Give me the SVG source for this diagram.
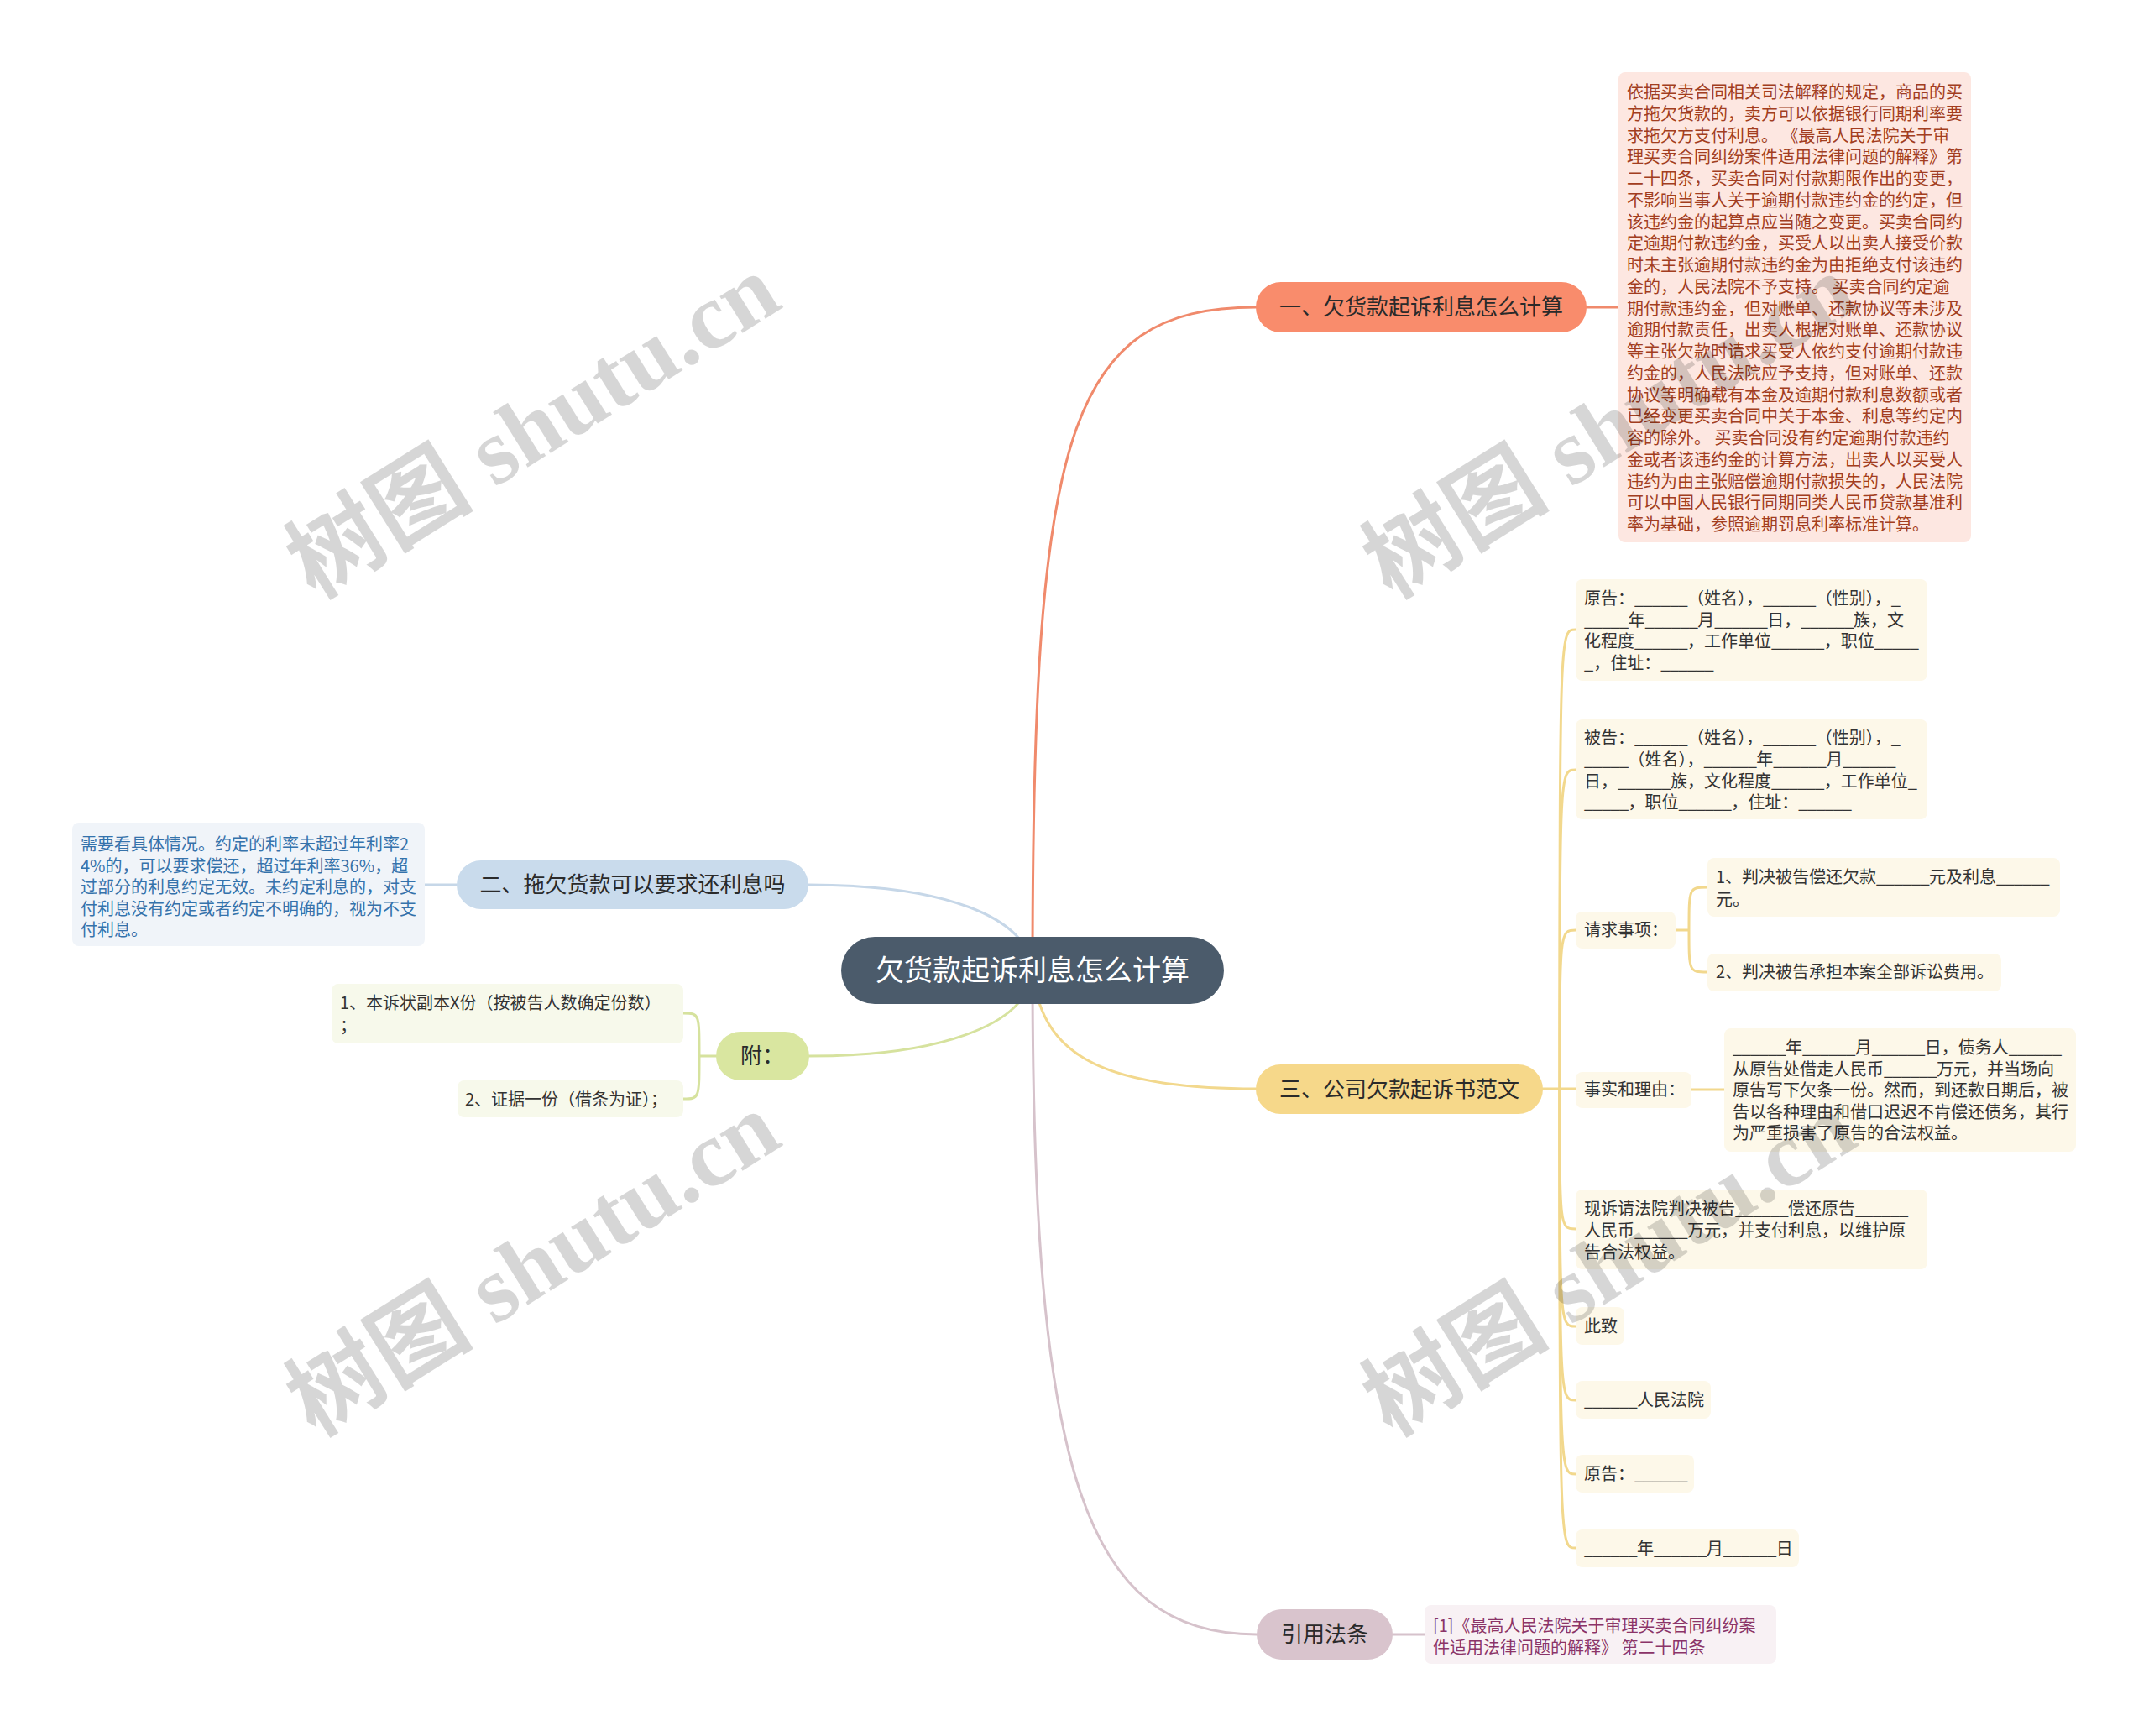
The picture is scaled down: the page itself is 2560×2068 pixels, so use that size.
<svg xmlns="http://www.w3.org/2000/svg" width="2560" height="2068" viewBox="0 0 2560 2068">
<style>
text{font-family:"Noto Sans CJK SC","Liberation Sans",sans-serif}
.t20{font-size:20px;fill:#333}
.u{letter-spacing:-0.7px}
.br{font-size:26px;fill:#2a2a2a;text-anchor:middle}
.c{fill:none;stroke-width:3;stroke-linecap:round}
.red{stroke:#f08a6c}.blue{stroke:#c6d7e8}.green{stroke:#d6e29e}.yel{stroke:#f2d88d}.mauve{stroke:#d6c2cb}
.yb{fill:#fdf8e9}.gb{fill:#f7f9eb}
.wm{font-family:"Liberation Serif","Noto Sans CJK SC",serif;font-size:112px;font-weight:bold;fill:#000;fill-opacity:0.16;text-anchor:middle}
</style>
<rect width="2560" height="2068" fill="#fff"/>
<g id="connectors">
<path class="c red" d="M1230,1156 C1230,520 1270,366 1496,366"/>
<path class="c red" d="M1890,366 H1928"/>
<path class="c blue" d="M1230,1156 C1225,1090 1120,1054 963,1054"/>
<path class="c blue" d="M506,1054 H544"/>
<path class="c green" d="M1230,1156 C1225,1225 1110,1258 964,1258"/>
<path class="c green" d="M853,1258 H833 M833,1258 C833,1207 833,1207 814,1207 M833,1258 C833,1309 833,1309 814,1309"/>
<path class="c yel" d="M1230,1156 C1240,1250 1300,1297 1496,1297"/>
<path class="c yel" d="M1838,1297 H1877"/>
<path class="c yel" d="M1858,1297 C1858,750 1858,750 1877,750"/>
<path class="c yel" d="M1858,1297 C1858,917 1858,917 1877,917"/>
<path class="c yel" d="M1858,1297 C1858,1108 1858,1108 1877,1108"/>
<path class="c yel" d="M1858,1297 C1858,1464 1858,1464 1877,1464"/>
<path class="c yel" d="M1858,1297 C1858,1580 1858,1580 1877,1580"/>
<path class="c yel" d="M1858,1297 C1858,1668 1858,1668 1877,1668"/>
<path class="c yel" d="M1858,1297 C1858,1756 1858,1756 1877,1756"/>
<path class="c yel" d="M1858,1297 C1858,1844 1858,1844 1877,1844"/>
<path class="c yel" d="M1996,1108 H2012 M2012,1108 C2012,1057 2012,1057 2034,1057 M2012,1108 C2012,1158 2012,1158 2034,1158"/>
<path class="c yel" d="M2015,1298 H2054"/>
<path class="c mauve" d="M1230,1156 C1230,1750 1290,1947 1497,1947"/>
<path class="c mauve" d="M1659,1947 H1697"/>
</g>
<g id="root">
<rect x="1002" y="1116" width="456" height="80" rx="40" fill="#4b5b6b"/>
<text x="1230" y="1168" font-size="34" fill="#fff" text-anchor="middle">欠货款起诉利息怎么计算</text>
</g>
<g id="b1">
<rect x="1496" y="336" width="394" height="60" rx="30" fill="#f98c6c"/>
<text class="br" x="1693" y="375">一、欠货款起诉利息怎么计算</text>
</g>
<g id="b1-text">
<rect x="1928" y="86" width="420" height="560" rx="8" fill="#fde7e1"/>
<text class="t20" style="fill:#a23d20" x="1938" y="117">
<tspan x="1938">依据买卖合同相关司法解释的规定，商品的买</tspan>
<tspan x="1938" dy="25.75">方拖欠货款的，卖方可以依据银行同期利率要</tspan>
<tspan x="1938" dy="25.75">求拖欠方支付利息。 《最高人民法院关于审</tspan>
<tspan x="1938" dy="25.75">理买卖合同纠纷案件适用法律问题的解释》第</tspan>
<tspan x="1938" dy="25.75">二十四条，买卖合同对付款期限作出的变更，</tspan>
<tspan x="1938" dy="25.75">不影响当事人关于逾期付款违约金的约定，但</tspan>
<tspan x="1938" dy="25.75">该违约金的起算点应当随之变更。买卖合同约</tspan>
<tspan x="1938" dy="25.75">定逾期付款违约金，买受人以出卖人接受价款</tspan>
<tspan x="1938" dy="25.75">时未主张逾期付款违约金为由拒绝支付该违约</tspan>
<tspan x="1938" dy="25.75">金的，人民法院不予支持。 买卖合同约定逾</tspan>
<tspan x="1938" dy="25.75">期付款违约金，但对账单、还款协议等未涉及</tspan>
<tspan x="1938" dy="25.75">逾期付款责任，出卖人根据对账单、还款协议</tspan>
<tspan x="1938" dy="25.75">等主张欠款时请求买受人依约支付逾期付款违</tspan>
<tspan x="1938" dy="25.75">约金的，人民法院应予支持，但对账单、还款</tspan>
<tspan x="1938" dy="25.75">协议等明确载有本金及逾期付款利息数额或者</tspan>
<tspan x="1938" dy="25.75">已经变更买卖合同中关于本金、利息等约定内</tspan>
<tspan x="1938" dy="25.75">容的除外。 买卖合同没有约定逾期付款违约</tspan>
<tspan x="1938" dy="25.75">金或者该违约金的计算方法，出卖人以买受人</tspan>
<tspan x="1938" dy="25.75">违约为由主张赔偿逾期付款损失的，人民法院</tspan>
<tspan x="1938" dy="25.75">可以中国人民银行同期同类人民币贷款基准利</tspan>
<tspan x="1938" dy="25.75">率为基础，参照逾期罚息利率标准计算。</tspan>
</text>
</g>
<g id="b2">
<rect x="544" y="1025" width="419" height="58" rx="29" fill="#c9dbec"/>
<text class="br" x="753.5" y="1063">二、拖欠货款可以要求还利息吗</text>
</g>
<g id="b2-text">
<rect x="86" y="980" width="420" height="147" rx="8" fill="#f0f4f9"/>
<text class="t20" style="fill:#3572ab" x="96" y="1013">
<tspan x="96">需要看具体情况。约定的利率未超过年利率2</tspan>
<tspan x="96" dy="25.5">4%的，可以要求偿还，超过年利率36%，超</tspan>
<tspan x="96" dy="25.5">过部分的利息约定无效。未约定利息的，对支</tspan>
<tspan x="96" dy="25.5">付利息没有约定或者约定不明确的，视为不支</tspan>
<tspan x="96" dy="25.5">付利息。</tspan>
</text>
</g>
<g id="fu">
<rect x="853" y="1229" width="111" height="58" rx="29" fill="#d9e6a0"/>
<text class="br" x="908" y="1267">附：</text>
</g>
<g id="fu-1">
<rect class="gb" x="395" y="1172" width="419" height="71" rx="8"/>
<text class="t20" x="405" y="1202"><tspan x="405">1、本诉状副本X份（按被告人数确定份数）</tspan><tspan x="405" dy="27">；</tspan></text>
</g>
<g id="fu-2">
<rect class="gb" x="545" y="1287" width="269" height="44" rx="8"/>
<text class="t20" x="554" y="1317">2、证据一份（借条为证）；</text>
</g>
<g id="b3">
<rect x="1496" y="1268" width="342" height="59" rx="29.5" fill="#f6d88a"/>
<text class="br" x="1667" y="1307">三、公司欠款起诉书范文</text>
</g>
<g id="b3-yuangao">
<rect class="yb" x="1877" y="690" width="419" height="121" rx="8"/>
<text class="t20" x="1887" y="720">
<tspan x="1887">原告：<tspan class="u">______</tspan>（姓名），<tspan class="u">______</tspan>（性别），_</tspan>
<tspan x="1887" dy="25.7"><tspan class="u">_____</tspan>年<tspan class="u">______</tspan>月<tspan class="u">______</tspan>日，<tspan class="u">______</tspan>族，文</tspan>
<tspan x="1887" dy="25.7">化程度<tspan class="u">______</tspan>，工作单位<tspan class="u">______</tspan>，职位<tspan class="u">_____</tspan></tspan>
<tspan x="1887" dy="25.7">_，住址：<tspan class="u">______</tspan></tspan>
</text>
</g>
<g id="b3-beigao">
<rect class="yb" x="1877" y="857" width="419" height="119" rx="8"/>
<text class="t20" x="1887" y="886">
<tspan x="1887">被告：<tspan class="u">______</tspan>（姓名），<tspan class="u">______</tspan>（性别），_</tspan>
<tspan x="1887" dy="25.8"><tspan class="u">_____</tspan>（姓名），<tspan class="u">______</tspan>年<tspan class="u">______</tspan>月<tspan class="u">______</tspan></tspan>
<tspan x="1887" dy="25.8">日，<tspan class="u">______</tspan>族，文化程度<tspan class="u">______</tspan>，工作单位_</tspan>
<tspan x="1887" dy="25.8"><tspan class="u">_____</tspan>，职位<tspan class="u">______</tspan>，住址：<tspan class="u">______</tspan></tspan>
</text>
</g>
<g id="b3-qingqiu">
<rect class="yb" x="1877" y="1086" width="119" height="44" rx="8"/>
<text class="t20" x="1887" y="1115">请求事项：</text>
</g>
<g id="qq-1">
<rect class="yb" x="2034" y="1022" width="420" height="70" rx="8"/>
<text class="t20" x="2044" y="1052"><tspan x="2044">1、判决被告偿还欠款<tspan class="u">______</tspan>元及利息<tspan class="u">______</tspan></tspan><tspan x="2044" dy="26.5">元。</tspan></text>
</g>
<g id="qq-2">
<rect class="yb" x="2034" y="1136" width="350" height="45" rx="8"/>
<text class="t20" x="2044" y="1165">2、判决被告承担本案全部诉讼费用。</text>
</g>
<g id="b3-shishi">
<rect class="yb" x="1877" y="1277" width="138" height="43" rx="8"/>
<text class="t20" x="1887" y="1305">事实和理由：</text>
</g>
<g id="shishi-1">
<rect class="yb" x="2054" y="1225" width="419" height="147" rx="8"/>
<text class="t20" x="2064" y="1255">
<tspan x="2064"><tspan class="u">______</tspan>年<tspan class="u">______</tspan>月<tspan class="u">______</tspan>日，债务人<tspan class="u">______</tspan></tspan>
<tspan x="2064" dy="25.5">从原告处借走人民币<tspan class="u">______</tspan>万元，并当场向</tspan>
<tspan x="2064" dy="25.5">原告写下欠条一份。然而，到还款日期后，被</tspan>
<tspan x="2064" dy="25.5">告以各种理由和借口迟迟不肯偿还债务，其行</tspan>
<tspan x="2064" dy="25.5">为严重损害了原告的合法权益。</tspan>
</text>
</g>
<g id="b3-xiansu">
<rect class="yb" x="1877" y="1417" width="419" height="95" rx="8"/>
<text class="t20" x="1887" y="1447">
<tspan x="1887">现诉请法院判决被告<tspan class="u">______</tspan>偿还原告<tspan class="u">______</tspan></tspan>
<tspan x="1887" dy="26">人民币<tspan class="u">______</tspan>万元，并支付利息，以维护原</tspan>
<tspan x="1887" dy="26">告合法权益。</tspan>
</text>
</g>
<g id="b3-cizhi">
<rect class="yb" x="1877" y="1557" width="58" height="45" rx="8"/>
<text class="t20" x="1887" y="1587">此致</text>
</g>
<g id="b3-fayuan">
<rect class="yb" x="1877" y="1645" width="161" height="45" rx="8"/>
<text class="t20" x="1887" y="1675"><tspan class="u">______</tspan>人民法院</text>
</g>
<g id="b3-yuangao2">
<rect class="yb" x="1877" y="1733" width="141" height="45" rx="8"/>
<text class="t20" x="1887" y="1763">原告：<tspan class="u">______</tspan></text>
</g>
<g id="b3-date">
<rect class="yb" x="1877" y="1822" width="266" height="45" rx="8"/>
<text class="t20" x="1887" y="1852"><tspan class="u">______</tspan>年<tspan class="u">______</tspan>月<tspan class="u">______</tspan>日</text>
</g>
<g id="b4">
<rect x="1497" y="1917" width="162" height="60" rx="30" fill="#d9c4cd"/>
<text class="br" x="1578" y="1956">引用法条</text>
</g>
<g id="b4-text">
<rect x="1697" y="1912" width="419" height="70" rx="8" fill="#f8f1f4"/>
<text class="t20" style="fill:#8b3468" x="1707" y="1944"><tspan x="1707">[1]《最高人民法院关于审理买卖合同纠纷案</tspan><tspan x="1707" dy="25.5">件适用法律问题的解释》 第二十四条</tspan></text>
</g>
<g id="watermarks">
<text class="wm" transform="translate(655,540) rotate(-32)">树图 shutu.cn</text>
<text class="wm" transform="translate(655,1538) rotate(-32)">树图 shutu.cn</text>
<text class="wm" transform="translate(1937,540) rotate(-32)">树图 shutu.cn</text>
<text class="wm" transform="translate(1937,1538) rotate(-32)">树图 shutu.cn</text>
</g>
</svg>
